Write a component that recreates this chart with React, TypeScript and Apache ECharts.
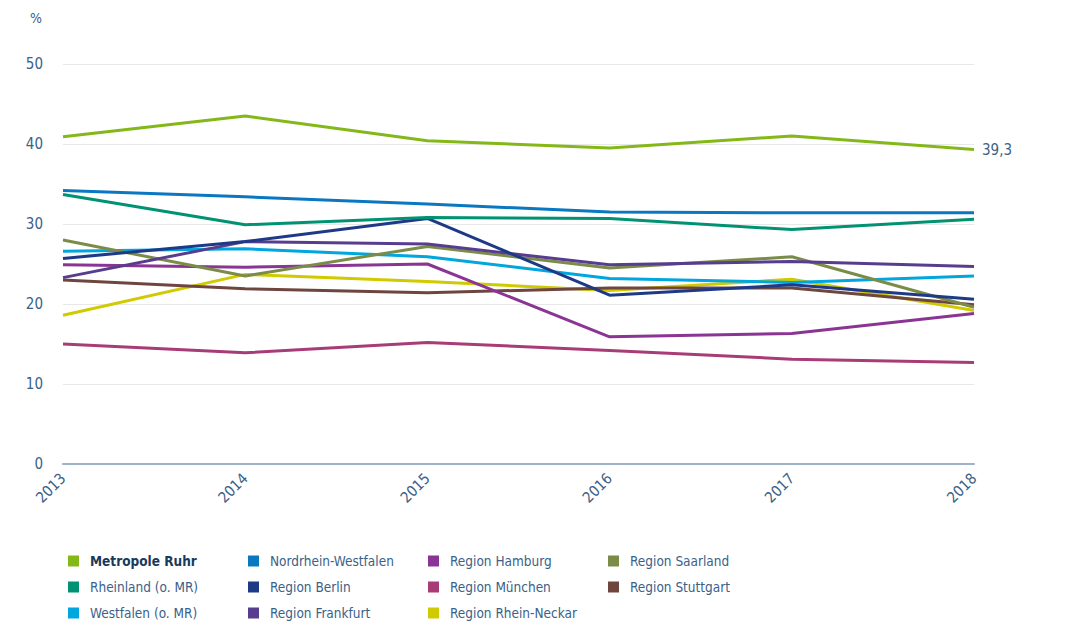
import React, { useEffect, useRef } from "react";
import * as echarts from "echarts";

const years = ["2013", "2014", "2015", "2016", "2017", "2018"];

const metropoleRuhr = [40.9, 43.5, 40.4, 39.5, 41.0, 39.3];
const nordrheinWestfalen = [34.2, 33.4, 32.5, 31.5, 31.4, 31.4];
const regionHamburg = [24.9, 24.6, 25.0, 15.9, 16.3, 18.8];
const regionSaarland = [28.0, 23.5, 27.2, 24.5, 25.9, 19.6];
const rheinland = [33.7, 29.9, 30.8, 30.7, 29.3, 30.6];
const regionBerlin = [25.7, 27.8, 30.7, 21.1, 22.4, 20.6];
const regionMuenchen = [15.0, 13.9, 15.2, 14.2, 13.1, 12.7];
const regionStuttgart = [23.0, 21.9, 21.4, 22.0, 22.0, 19.9];
const westfalen = [26.6, 26.9, 25.9, 23.2, 22.7, 23.5];
const regionFrankfurt = [23.3, 27.8, 27.5, 24.9, 25.3, 24.7];
const regionRheinNeckar = [18.6, 23.7, 22.8, 21.7, 23.1, 19.2];

const seriesDefs = [
  { name: "Region Rhein-Neckar", data: regionRheinNeckar, color: "#cfcb00" },
  { name: "Region Stuttgart", data: regionStuttgart, color: "#6e463e" },
  { name: "Region München", data: regionMuenchen, color: "#a83c77" },
  { name: "Region Hamburg", data: regionHamburg, color: "#8a3594" },
  { name: "Westfalen (o. MR)", data: westfalen, color: "#00a6de" },
  { name: "Region Saarland", data: regionSaarland, color: "#7b8c48" },
  { name: "Region Frankfurt", data: regionFrankfurt, color: "#583d8e" },
  { name: "Region Berlin", data: regionBerlin, color: "#1e3a87" },
  { name: "Rheinland (o. MR)", data: rheinland, color: "#009272" },
  { name: "Nordrhein-Westfalen", data: nordrheinWestfalen, color: "#0a78c0" },
  { name: "Metropole Ruhr", data: metropoleRuhr, color: "#84b819" },
];

const legendColumns = [
  ["Metropole Ruhr", "Rheinland (o. MR)", "Westfalen (o. MR)"],
  ["Nordrhein-Westfalen", "Region Berlin", "Region Frankfurt"],
  ["Region Hamburg", "Region München", "Region Rhein-Neckar"],
  ["Region Saarland", "Region Stuttgart"],
];

const FONT = "'DejaVu Sans Condensed', 'Liberation Sans Narrow', 'Liberation Sans', Arial, sans-serif";
const TEXT = "#3a6188";

export default function App() {
  const ref = useRef<HTMLDivElement>(null);
  useEffect(() => {
    if (!ref.current) return;
    const chart = echarts.init(ref.current, undefined, { renderer: "svg" });
    const colLefts = [68, 248, 428, 608];
    chart.setOption({
      animation: false,
      textStyle: { fontFamily: FONT },
      grid: { left: 63, right: 106, top: 64, bottom: 168, containLabel: false },
      graphic: [
        {
          type: "text",
          left: 30,
          top: 11,
          style: { text: "%", fill: TEXT, font: `14px ${FONT}` },
        },
      ],
      legend: legendColumns.map((col, i) => ({
        orient: "vertical",
        left: colLefts[i],
        top: 553,
        height: 90,
        padding: 0,
        itemWidth: 11,
        itemHeight: 11,
        itemGap: 10,
        icon: "rect",
        textStyle: {
          color: TEXT,
          fontSize: 13.5,
          lineHeight: 16,
          fontFamily: FONT,
          padding: [0, 0, 0, 6],
        },
        data: col.map((name) =>
          name === "Metropole Ruhr"
            ? { name, textStyle: { fontWeight: "bold", color: "#1a3a5c" } }
            : { name }
        ),
      })),
      xAxis: {
        type: "category",
        data: years,
        boundaryGap: false,
        axisLine: { lineStyle: { color: "#9fb3c8", width: 2 } },
        axisTick: { show: false },
        axisLabel: {
          rotate: 45,
          color: TEXT,
          fontSize: 15,
          fontFamily: FONT,
          margin: 12,
        },
        splitLine: { show: false },
      },
      yAxis: {
        type: "value",
        min: 0,
        max: 50,
        interval: 10,
        axisLine: { show: false },
        axisTick: { show: false },
        axisLabel: { color: TEXT, fontSize: 15, fontFamily: FONT, margin: 20 },
        splitLine: { lineStyle: { color: "#e8e8e8", width: 1 } },
      },
      series: seriesDefs.map((s) => ({
        type: "line",
        name: s.name,
        data: s.data,
        color: s.color,
        showSymbol: false,
        symbol: "none",
        lineStyle: { width: 3, color: s.color },
        emphasis: { disabled: true },
        endLabel:
          s.name === "Metropole Ruhr"
            ? {
                show: true,
                distance: 8,
                color: TEXT,
                fontSize: 15,
                fontFamily: FONT,
                formatter: (p: any) => String(p.value).replace(".", ","),
              }
            : { show: false },
      })),
    });
    return () => chart.dispose();
  }, []);
  return <div ref={ref} style={{ width: 1080, height: 632, margin: -8 }} />;
}
